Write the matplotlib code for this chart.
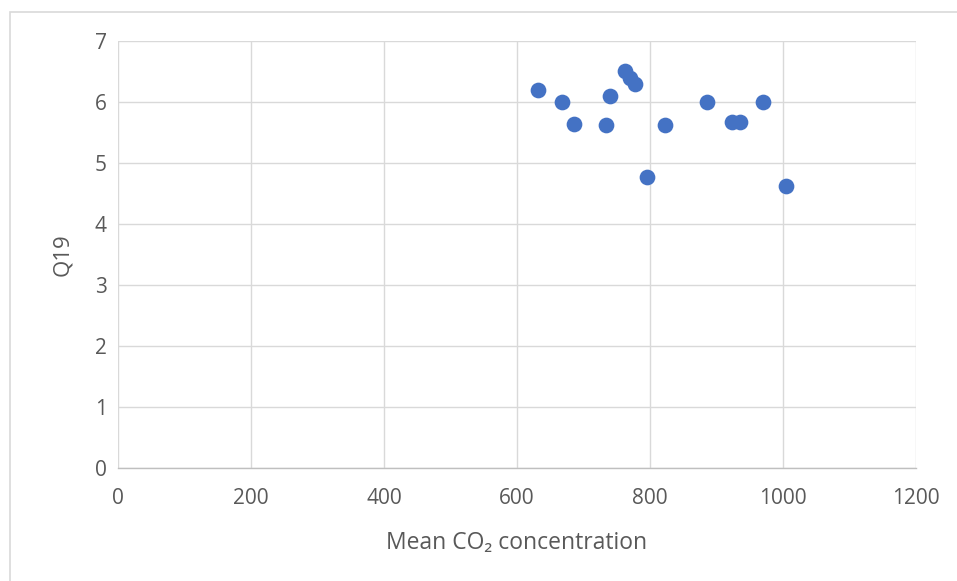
import matplotlib
matplotlib.use("Agg")
import matplotlib.pyplot as plt
from matplotlib.patches import Rectangle

co2 = [631, 668, 685, 733.5, 740.5, 762, 769.6, 777, 796, 822.6, 886, 923, 935, 970, 1005]
q19 = [6.20, 6.00, 5.64, 5.62, 6.10, 6.51, 6.40, 6.30, 4.78, 5.63, 6.00, 5.67, 5.67, 6.00, 4.62]
x_ticks = [0, 200, 400, 600, 800, 1000, 1200]
y_ticks = [0, 1, 2, 3, 4, 5, 6, 7]

plt.rcParams['font.family'] = ['Open Sans', 'DejaVu Sans']

fig = plt.figure(figsize=(9.57, 5.81), dpi=100)
fig.patches.append(Rectangle((9.5/957, -10/581), 960/957, 579/581, transform=fig.transFigure,
                             fill=False, edgecolor='#D9D9D9', linewidth=1.2))
ax = fig.add_axes([118/957, 1-468.3/581, (916-118)/957, (468.3-41)/581])

ax.scatter(co2, q19, s=128, color='#4472C4', zorder=3, linewidths=0)
ax.set_xlim(0, 1200)
ax.set_ylim(0, 7)
ax.set_xticks(x_ticks)
ax.set_yticks(y_ticks)
ax.grid(True, color='#D9D9D9', linewidth=1)
ax.set_axisbelow(True)
for s in ['top', 'right', 'left']:
    ax.spines[s].set_visible(False)
ax.spines['bottom'].set_color('#BFBFBF')
ax.spines['bottom'].set_linewidth(1)
ax.tick_params(axis='x', length=0, labelsize=15, labelcolor='#595959', pad=14)
ax.tick_params(axis='y', length=0, labelsize=15, labelcolor='#595959', pad=8)
ax.set_xlabel('Mean CO₂ concentration', fontsize=16.5, color='#595959', labelpad=16)
ax.set_ylabel('Q19', fontsize=16, color='#595959', labelpad=16)

fig.savefig('out.png', dpi=100)
